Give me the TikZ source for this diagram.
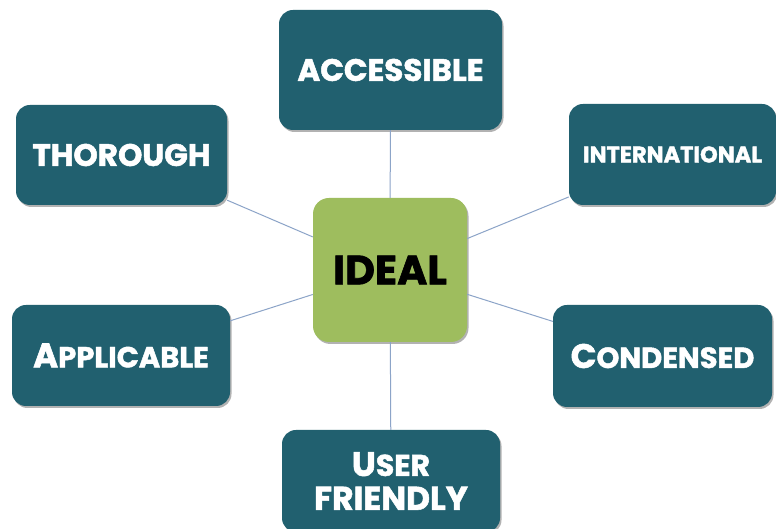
\documentclass[tikz,border=0pt]{standalone}
\usepackage{fontspec}
\setmainfont{Poppins}[BoldFeatures={FakeBold=1.6}]
\usetikzlibrary{shadows}
\definecolor{boxteal}{RGB}{33,96,111}
\definecolor{idealgreen}{RGB}{158,189,94}
\definecolor{linkblue}{RGB}{140,164,200}
\tikzset{
  tealbox/.style={draw=none, fill=boxteal, rounded corners=14pt, text=white,
    font=\bfseries\fontsize{29}{32}\selectfont, align=center, inner sep=0pt,
    drop shadow={shadow xshift=1.5pt, shadow yshift=-2pt, opacity=0.3, fill=black}},
  greenbox/.style={draw=none, fill=idealgreen, rounded corners=16pt, text=black,
    font=\bfseries\fontsize{41}{44}\selectfont, inner sep=0pt,
    drop shadow={shadow xshift=1.5pt, shadow yshift=-2pt, opacity=0.3, fill=black}},
  link/.style={draw=linkblue, line width=1pt}
}
\newcommand{\initcap}[1]{{\fontsize{34}{36}\selectfont #1}}
\begin{document}
\begin{tikzpicture}[x=1pt,y=1pt]
\useasboundingbox (0,0) rectangle (776,529);
\fill[white] (0,0) rectangle (776,529);
\node[greenbox, minimum width=154pt, minimum height=144pt] (ideal) at (390,259) {IDEAL};
\node[tealbox, minimum width=223pt, minimum height=120pt, font=\bfseries\fontsize{31}{34}\selectfont] (acc) at (390.5,459) {ACCESSIBLE};
\node[tealbox, minimum width=207pt, minimum height=101pt, font=\bfseries\fontsize{22.5}{26}\selectfont] (intl) at (672.5,374.5) {INTERNATIONAL};
\node[tealbox, minimum width=211pt, minimum height=100pt, font=\bfseries\fontsize{31}{34}\selectfont] (thor) at (121.5,374) {THOROUGH};
\node[tealbox, minimum width=218pt, minimum height=101pt] (appl) at (121,173.5) {\initcap{A}PPLICABLE};
\node[tealbox, minimum width=219pt, minimum height=102pt] (cond) at (662.5,173) {\initcap{C}ONDENSED};
\node[tealbox, minimum width=218pt, minimum height=102pt, font=\bfseries\fontsize{30}{34}\selectfont] (user) at (391,48) {\initcap{U}SER\\{\fontsize{33}{34}\selectfont FRIENDLY}};
\draw[link] (acc) -- (ideal);
\draw[link] (user) -- (ideal);
\draw[link] (thor) -- (ideal);
\draw[link] (appl) -- (ideal);
\draw[link] (intl) -- (ideal);
\draw[link] (cond) -- (ideal);
\end{tikzpicture}
\end{document}
